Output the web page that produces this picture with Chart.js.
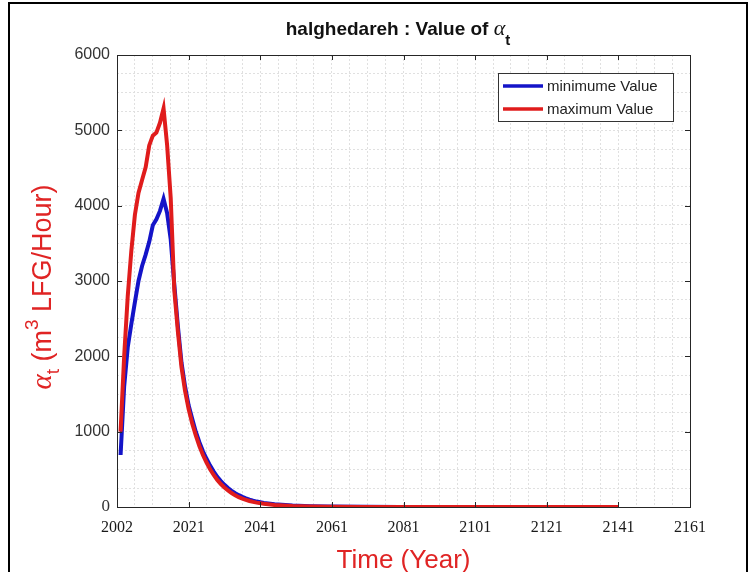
<!DOCTYPE html>
<html>
<head>
<meta charset="utf-8">
<script src="https://cdn.jsdelivr.net/npm/chart.js@4.4.0/dist/chart.umd.min.js"></script>
<style>
html, body { margin: 0; padding: 0; background: #fff; }
#wrap { width: 749px; height: 572px; }
</style>
</head>
<body>
<div id="wrap"><canvas id="alphaChart" width="749" height="572"></canvas></div>
<script>
// data (m3 LFG / hour)
const years = [2002, 2003, 2004, 2005, 2006, 2007, 2008, 2009, 2010, 2011,
    2012, 2013, 2014, 2015, 2016, 2017, 2018, 2019, 2020, 2021,
    2022, 2023, 2024, 2025, 2026, 2027, 2028, 2029, 2030, 2031,
    2032, 2033, 2034, 2035, 2036, 2037, 2038, 2039, 2040, 2042,
    2045, 2050, 2055, 2060, 2070, 2080, 2100, 2120, 2141];
const minValues = [690, 1600, 2120, 2430, 2720, 3000, 3200, 3350, 3520, 3740,
    3820, 3930, 4090, 3900, 3550, 2950, 2400, 1920, 1600, 1350,
    1170, 1000, 860, 740, 640, 550, 470, 400, 345, 295,
    252, 215, 183, 157, 134, 115, 98, 84, 72, 54,
    36, 19, 10, 6, 2, 1, 0.5, 0.3, 0.2];
const maxValues = [1000, 2000, 2800, 3400, 3880, 4170, 4340, 4510, 4800, 4930,
    4970, 5100, 5290, 4800, 4100, 2880, 2330, 1860, 1540, 1300,
    1110, 950, 810, 690, 590, 500, 425, 360, 305, 260,
    220, 185, 155, 130, 110, 95, 80, 68, 58, 42,
    27, 13, 7, 4, 1, 0.5, 0.3, 0.2, 0.1];
const xTickLabels = ['2002', '2021', '2041', '2061', '2081', '2101', '2121', '2141', '2161'];
const seriesNames = ['minimume Value', 'maximum Value'];
const seriesColors = ['#1414c8', '#e01c1c'];

const textRed = '#e02424';

function toPoints(vals) {
    return years.map((y, i) => ({ x: y, y: vals[i] }));
}

// draws text pieces (sub/superscripts) centred on x, y = baseline
function drawRich(ctx, parts, x, y) {
    let total = 0;
    parts.forEach(p => {
        ctx.font = p.font;
        p.w = ctx.measureText(p.text).width;
        total += p.w;
    });
    let cx = x - total / 2;
    ctx.textAlign = 'left';
    ctx.textBaseline = 'alphabetic';
    parts.forEach(p => {
        ctx.font = p.font;
        ctx.fillText(p.text, cx, y + (p.dy || 0));
        cx += p.w;
    });
}

const framePlugin = {
    id: 'matlabFrame',
    afterDraw(chart) {
        const ctx = chart.ctx;
        const a = chart.chartArea;
        const xs = chart.scales.x, ys = chart.scales.y;
        ctx.save();

        // outer picture frame
        ctx.strokeStyle = '#000';
        ctx.lineWidth = 2;
        ctx.beginPath();
        ctx.moveTo(9, 572);
        ctx.lineTo(9, 3);
        ctx.lineTo(747, 3);
        ctx.lineTo(747, 572);
        ctx.stroke();

        // axes box + inward ticks
        ctx.strokeStyle = '#262626';
        ctx.lineWidth = 1;
        ctx.strokeRect(a.left + 0.5, a.top + 0.5, a.right - a.left, a.bottom - a.top);
        ctx.beginPath();
        xs.ticks.forEach(t => {
            if ((t.value - 2001) % 20 !== 0) return;
            const px = Math.round(xs.getPixelForValue(t.value)) + 0.5;
            ctx.moveTo(px, a.bottom); ctx.lineTo(px, a.bottom - 5);
            ctx.moveTo(px, a.top); ctx.lineTo(px, a.top + 5);
        });
        ys.ticks.forEach(t => {
            if (t.value % 1000 !== 0) return;
            const py = Math.round(ys.getPixelForValue(t.value)) + 0.5;
            ctx.moveTo(a.left, py); ctx.lineTo(a.left + 5, py);
            ctx.moveTo(a.right, py); ctx.lineTo(a.right - 5, py);
        });
        ctx.stroke();

        // legend
        const lx = 498, ly = 73, lw = 175, lh = 48;
        ctx.fillStyle = '#fff';
        ctx.fillRect(lx, ly, lw, lh);
        ctx.strokeStyle = '#333';
        ctx.strokeRect(lx + 0.5, ly + 0.5, lw, lh);
        chart.data.datasets.forEach((ds, i) => {
            const y = ly + 13 + i * 23;
            ctx.strokeStyle = ds.borderColor;
            ctx.lineWidth = 3.5;
            ctx.beginPath();
            ctx.moveTo(lx + 5, y); ctx.lineTo(lx + 45, y);
            ctx.stroke();
            ctx.fillStyle = '#222';
            ctx.font = '15px "Liberation Sans", Arial, sans-serif';
            ctx.textAlign = 'left';
            ctx.textBaseline = 'middle';
            ctx.fillText(ds.label, lx + 49, y + 1);
        });

        // main title
        ctx.fillStyle = '#111';
        drawRich(ctx, [
            { text: 'halghedareh : Value of ', font: 'bold 19px "Liberation Sans", Arial, sans-serif' },
            { text: 'α', font: 'italic 22px "Liberation Serif", serif' },
            { text: 't', font: 'bold 15px "Liberation Sans", Arial, sans-serif', dy: 10 }
        ], 398, 35);

        // x title
        ctx.fillStyle = textRed;
        drawRich(ctx, [
            { text: 'Time (Year)', font: '26px "Liberation Sans", Arial, sans-serif' }
        ], (a.left + a.right) / 2, 568);

        // y title (rotated)
        ctx.translate(51, 287);
        ctx.rotate(-Math.PI / 2);
        drawRich(ctx, [
            { text: 'α', font: 'italic 29px "Liberation Serif", serif' },
            { text: 't', font: '19px "Liberation Sans", Arial, sans-serif', dy: 8 },
            { text: ' (m', font: '27px "Liberation Sans", Arial, sans-serif' },
            { text: '3', font: '19px "Liberation Sans", Arial, sans-serif', dy: -13 },
            { text: ' LFG/Hour)', font: '27px "Liberation Sans", Arial, sans-serif' }
        ], 0, 0);

        ctx.restore();
    }
};

const ctx = document.getElementById('alphaChart').getContext('2d');
new Chart(ctx, {
    type: 'line',
    data: {
        datasets: [{
            label: seriesNames[0],
            data: toPoints(minValues),
            borderColor: seriesColors[0],
            borderWidth: 4,
            pointRadius: 0,
            tension: 0,
            order: 2
        }, {
            label: seriesNames[1],
            data: toPoints(maxValues),
            borderColor: seriesColors[1],
            borderWidth: 4,
            pointRadius: 0,
            tension: 0,
            order: 1
        }]
    },
    options: {
        responsive: false,
        devicePixelRatio: 1,
        animation: false,
        layout: { padding: { left: 0, top: 55, right: 59, bottom: 0 } },
        plugins: {
            legend: { display: false },
            title: { display: false },
            tooltip: { enabled: false }
        },
        scales: {
            x: {
                type: 'linear',
                min: 2001,
                max: 2161,
                afterFit: s => { s.height = 65; },
                afterBuildTicks: s => {
                    s.ticks = [];
                    for (let v = 2001; v <= 2161; v += 5) s.ticks.push({ value: v });
                },
                grid: { color: '#e0e0e0', drawTicks: false, borderDash: [2, 2] },
                border: { display: false, dash: [2, 2] },
                ticks: {
                    autoSkip: false,
                    maxRotation: 0,
                    padding: 11,
                    color: '#1a1a1a',
                    font: { family: '"Liberation Serif", "Times New Roman", serif', size: 16 },
                    callback: v => (v - 2001) % 20 === 0 ? xTickLabels[(v - 2001) / 20] : ''
                }
            },
            y: {
                min: 0,
                max: 6000,
                afterFit: s => { s.width = 117; },
                afterBuildTicks: s => {
                    s.ticks = [];
                    for (let v = 0; v <= 6000; v += 250) s.ticks.push({ value: v });
                },
                grid: { color: '#e0e0e0', drawTicks: false, borderDash: [2, 2] },
                border: { display: false, dash: [2, 2] },
                ticks: {
                    autoSkip: false,
                    padding: 7,
                    color: '#333',
                    font: ctx => ctx.tick && ctx.tick.value === 0
                        ? { family: '"Liberation Serif", serif', size: 17 }
                        : { family: '"Liberation Sans", Arial, sans-serif', size: 16 },
                    callback: v => v % 1000 === 0 ? String(v) : ''
                }
            }
        }
    },
    plugins: [framePlugin]
});
</script>
</body>
</html>
